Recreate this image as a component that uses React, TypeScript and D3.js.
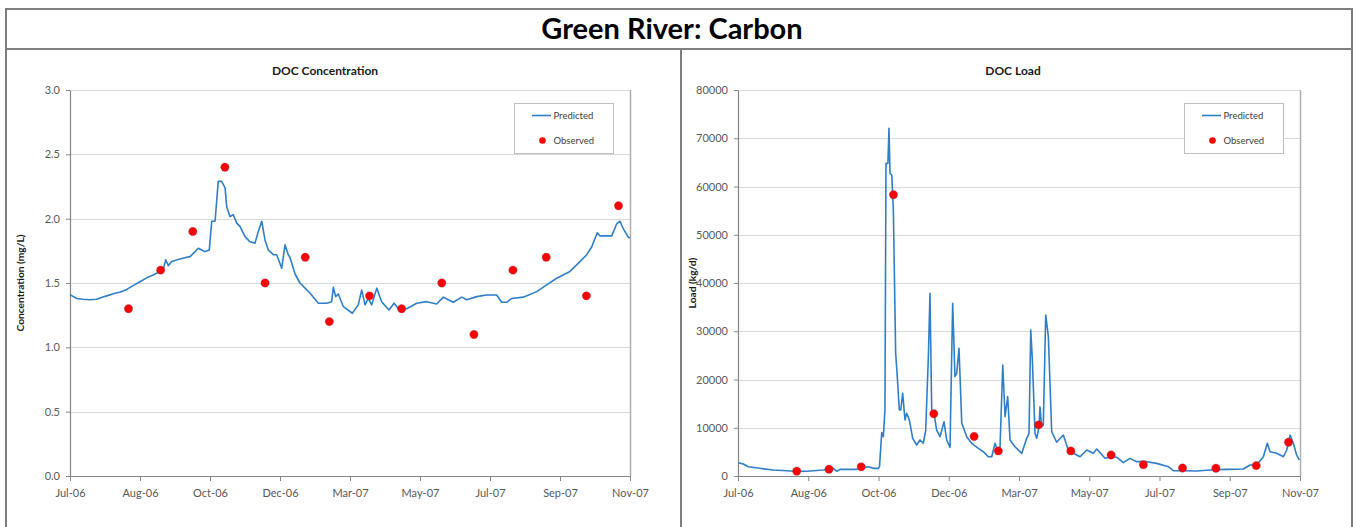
import { useEffect, useRef } from "react";
import * as d3 from "d3";

// day 0 = 1 Jul 2006
const START = Date.UTC(2006, 6, 1);
const DAY_MS = 86400000;

const axisTickDates = [
	"2006-07-01",
	"2006-08-31",
	"2006-10-31",
	"2006-12-31",
	"2007-03-02",
	"2007-05-02",
	"2007-07-02",
	"2007-09-01",
	"2007-11-01",
];

const observedDates = [
	"2006-08-21",
	"2006-09-18",
	"2006-10-16",
	"2006-11-13",
	"2006-12-18",
	"2007-01-22",
	"2007-02-12",
	"2007-03-19",
	"2007-04-16",
	"2007-05-21",
	"2007-06-18",
	"2007-07-22",
	"2007-08-20",
	"2007-09-24",
	"2007-10-22",
];

const concObserved = [1.3, 1.6, 1.9, 2.4, 1.5, 1.7, 1.2, 1.4, 1.3, 1.5, 1.1, 1.6, 1.7, 1.4, 2.1];
const loadObserved = [
	1000, 1400, 1900, 58300, 12900, 8200, 5200, 10600, 5200, 4350, 2350, 1650, 1600, 2150, 7000,
];

const concPredDays = [
	0, 5.8, 11.3, 17, 23.3, 28, 32, 39.2, 44, 49.4, 55, 61, 66.8, 72, 78.4, 81.3, 83.4, 85.7, 88.6,
	95, 101.7, 104.6, 107.5, 111.8, 114.8, 117.6, 121.4, 123.5, 126.4, 129.2, 132.2, 135.1, 136.6,
	139.4, 142.3, 145.3, 148.1, 152.5, 156.9, 161.2, 164.1, 167.1, 169.9, 172.8, 177.2, 180.1, 184.5,
	187.4, 190.2, 191.7, 196.1, 200.4, 204.8, 209.2, 216.4, 223.7, 228, 229.5, 231.5, 233.8, 238.2,
	246, 251.2, 254.2, 257.1, 259.9, 262.9, 267.3, 271.6, 278, 282.4, 286.1, 293.4, 302.1, 310.8,
	319.6, 325.3, 329.7, 334, 341.4, 345.7, 354.4, 363.1, 371.8, 376.2, 380.6, 384.9, 395, 406.7,
	415.4, 424.1, 435.7, 443, 450.3, 454.6, 459.5, 461.9, 472.1, 476.4, 479.3, 482.2, 486.5, 488,
];
const concPredValues = [
	1.41, 1.38, 1.374, 1.37, 1.374, 1.39, 1.4, 1.42, 1.43, 1.45, 1.48, 1.51, 1.54, 1.56, 1.59, 1.607,
	1.68, 1.635, 1.667, 1.685, 1.7, 1.705, 1.73, 1.77, 1.757, 1.744, 1.757, 1.98, 1.98, 2.29, 2.29,
	2.24, 2.09, 2.017, 2.03, 1.965, 1.94, 1.86, 1.82, 1.81, 1.9, 1.98, 1.835, 1.757, 1.72, 1.72, 1.615,
	1.796, 1.72, 1.7, 1.57, 1.5, 1.46, 1.42, 1.343, 1.343, 1.355, 1.467, 1.394, 1.415, 1.316, 1.265,
	1.33, 1.446, 1.33, 1.38, 1.33, 1.46, 1.355, 1.29, 1.343, 1.3, 1.3, 1.343, 1.355, 1.337, 1.39,
	1.37, 1.35, 1.39, 1.37, 1.394, 1.407, 1.407, 1.35, 1.35, 1.38, 1.39, 1.433, 1.485, 1.537, 1.59,
	1.654, 1.72, 1.78, 1.89, 1.866, 1.866, 1.96, 1.98, 1.92, 1.856, 1.85,
];

const loadPredDays = [
	0, 4.6, 8.9, 19.1, 30.7, 42.3, 49.5, 59.7, 74.1, 82.8, 85.7, 88.6, 103.1, 113.1, 117.5, 121.8,
	122.9, 124.8, 126.2, 127.6, 128.5, 130.2, 131.1, 132, 133.5, 134.9, 136.9, 138.3, 140.1, 141.3,
	143, 145, 146.5, 148.8, 151.7, 155.2, 158, 160.9, 163, 165.3, 166.7, 168.2, 170.2, 172.5, 175.4,
	178.9, 181.2, 184.1, 186.4, 188.4, 189.9, 191.9, 194.3, 198.6, 202.9, 208.7, 213, 217.3, 220.3,
	223.2, 225.2, 227.5, 229.9, 231.9, 234.2, 236.2, 240.5, 246.4, 250.7, 252.7, 254.2, 255.6, 257.9,
	259.4, 261.4, 262.2, 263.7, 265.1, 267.2, 269.5, 272.4, 276.7, 282.5, 286.8, 294.1, 297, 302.8,
	308.5, 311.5, 318.7, 324.5, 328.8, 334.6, 340.4, 346.2, 354.9, 363.6, 373.7, 378, 386.7, 398.3,
	409.9, 424.4, 438.8, 444.6, 450.4, 456.2, 459.6, 462, 467.8, 473.6, 476.5, 479.4, 482.2, 485.1,
	487.4,
];
const loadPredValues = [
	2760, 2490, 1930, 1590, 1240, 1100, 970, 1000, 1240, 1590, 1000, 1380, 1380, 1930, 1590, 1590,
	2000, 9000, 8150, 13680, 64800, 64800, 72060, 62700, 62380, 55130, 25430, 20580, 13680, 13680,
	17140, 11600, 13000, 11600, 7810, 6420, 7460, 6780, 9530, 24730, 37860, 13680, 12990, 9530, 8150,
	11250, 7460, 5940, 35790, 20580, 21280, 26460, 10920, 8150, 6780, 5740, 5040, 4000, 4000, 6780,
	5390, 5800, 23000, 12290, 16440, 7460, 6070, 4700, 7810, 8840, 30260, 24040, 8840, 7810, 10220,
	14360, 10220, 10500, 33370, 28870, 9190, 7000, 8500, 5390, 4350, 4000, 5390, 4700, 5600, 3660,
	4000, 3900, 2760, 3660, 2970, 2970, 2620, 1930, 1100, 1100, 1050, 1240, 1380, 1450, 2280, 2280,
	4000, 6780, 5040, 4700, 4000, 5390, 8500, 6780, 4350, 3320,
];

const concTicks = [0, 0.5, 1.0, 1.5, 2.0, 2.5, 3.0];
const loadTicks = [0, 10000, 20000, 30000, 40000, 50000, 60000, 70000, 80000];

const FONT = "Lato, 'Open Sans', sans-serif";
const LINE_COLOR = "#2f7fc8";
const DOT_COLOR = "#ff0000";

interface PanelSpec {
	left: number;
	right: number;
	top: number;
	bottom: number;
	title: string;
	titleX: number;
	yTitle: string;
	yTitleX: number;
	yMax: number;
	yTicks: number[];
	yFormat: (v: number) => string;
	predDays: number[];
	predValues: number[];
	observed: number[];
}

const parseDate = d3.utcParse("%Y-%m-%d");
const dayToDate = (day: number) => new Date(START + day * DAY_MS);

const drawPanel = (svg: d3.Selection<SVGSVGElement, unknown, null, undefined>, spec: PanelSpec) => {
	const x = d3
		.scaleUtc()
		.domain([parseDate(axisTickDates[0])!, parseDate(axisTickDates[axisTickDates.length - 1])!])
		.range([spec.left, spec.right]);
	const y = d3.scaleLinear().domain([0, spec.yMax]).range([spec.bottom, spec.top]);

	const g = svg.append("g");

	// gridlines
	g.selectAll("line.grid")
		.data(spec.yTicks.filter((t) => t > 0))
		.join("line")
		.attr("class", "grid")
		.attr("x1", spec.left)
		.attr("x2", spec.right)
		.attr("y1", (t) => Math.round(y(t)) + 0.5)
		.attr("y2", (t) => Math.round(y(t)) + 0.5)
		.attr("stroke", "#d9d9d9")
		.attr("stroke-width", 1);

	// plot area right border
	g.append("line")
		.attr("x1", spec.right + 0.5)
		.attr("x2", spec.right + 0.5)
		.attr("y1", spec.top)
		.attr("y2", spec.bottom)
		.attr("stroke", "#b0b0b0")
		.attr("stroke-width", 1.5);

	const yAxis = g
		.append("g")
		.attr("transform", `translate(${spec.left},0)`)
		.call(
			d3
				.axisLeft(y)
				.tickValues(spec.yTicks)
				.tickSize(4)
				.tickSizeOuter(0)
				.tickPadding(6)
				.tickFormat((v) => spec.yFormat(Number(v)))
		);
	yAxis.select(".domain").attr("stroke", "#868686").attr("stroke-width", 1.2);
	yAxis.selectAll(".tick line").attr("stroke", "#868686");
	yAxis
		.selectAll("text")
		.attr("fill", "#595959")
		.attr("font-size", 11)
		.attr("font-family", FONT);

	const xAxis = g
		.append("g")
		.attr("transform", `translate(0,${spec.bottom})`)
		.call(
			d3
				.axisBottom(x)
				.tickValues(axisTickDates.map((d) => parseDate(d)!))
				.tickSize(5)
				.tickSizeOuter(0)
				.tickPadding(8)
				.tickFormat((d) => d3.utcFormat("%b-%y")(d as Date))
		);
	xAxis.select(".domain").attr("stroke", "#868686").attr("stroke-width", 1.2);
	xAxis.selectAll(".tick line").attr("stroke", "#868686");
	xAxis
		.selectAll("text")
		.attr("fill", "#595959")
		.attr("font-size", 11)
		.attr("font-family", FONT);

	// predicted line
	const pred = spec.predDays.map((d, i) => ({ date: dayToDate(d), value: spec.predValues[i] }));
	const line = d3
		.line<{ date: Date; value: number }>()
		.x((d) => x(d.date))
		.y((d) => y(d.value));
	g.append("path")
		.datum(pred)
		.attr("d", line)
		.attr("fill", "none")
		.attr("stroke", LINE_COLOR)
		.attr("stroke-width", 1.6)
		.attr("stroke-linejoin", "round");

	// observed dots
	g.selectAll("circle.obs")
		.data(observedDates.map((d, i) => ({ date: parseDate(d)!, value: spec.observed[i] })))
		.join("circle")
		.attr("class", "obs")
		.attr("cx", (d) => x(d.date))
		.attr("cy", (d) => y(d.value))
		.attr("r", 4.2)
		.attr("fill", DOT_COLOR)
		.attr("stroke", "#6b4a7a")
		.attr("stroke-width", 0.5)
		.attr("stroke-opacity", 0.6);

	// titles
	g.append("text")
		.attr("x", spec.titleX)
		.attr("y", 75)
		.attr("text-anchor", "middle")
		.attr("font-size", 12)
		.attr("font-weight", 700)
		.attr("font-family", FONT)
		.attr("fill", "#1a1a1a")
		.text(spec.title);

	g.append("text")
		.attr("transform", `translate(${spec.yTitleX},${(spec.top + spec.bottom) / 2}) rotate(-90)`)
		.attr("text-anchor", "middle")
		.attr("dy", "0.35em")
		.attr("font-size", 10.2)
		.attr("font-weight", 700)
		.attr("font-family", FONT)
		.attr("fill", "#1a1a1a")
		.text(spec.yTitle);

	// legend
	const lx = spec.right - 116;
	const ly = 103;
	const legend = g.append("g").attr("transform", `translate(${lx},${ly})`);
	legend
		.append("rect")
		.attr("x", 0.5)
		.attr("y", 0.5)
		.attr("width", 99)
		.attr("height", 50)
		.attr("fill", "#ffffff")
		.attr("stroke", "#bfbfbf");
	legend
		.append("line")
		.attr("x1", 18)
		.attr("x2", 37)
		.attr("y1", 12.5)
		.attr("y2", 12.5)
		.attr("stroke", LINE_COLOR)
		.attr("stroke-width", 1.6);
	legend
		.append("circle")
		.attr("cx", 28.5)
		.attr("cy", 37.5)
		.attr("r", 3.3)
		.attr("fill", DOT_COLOR);
	legend
		.selectAll("text")
		.data(["Predicted", "Observed"])
		.join("text")
		.attr("x", 39.5)
		.attr("y", (_, i) => 16 + i * 25)
		.attr("font-size", 9.5)
		.attr("font-family", FONT)
		.attr("fill", "#404040")
		.text((d) => d);
};

export default function App() {
	const containerRef = useRef<HTMLDivElement>(null);

	useEffect(() => {
		if (!containerRef.current) {
			return;
		}
		const width = 1356;
		const height = 527;

		const svg = d3
			.select(containerRef.current)
			.append("svg")
			.attr("width", width)
			.attr("height", height)
			.style("position", "absolute")
			.style("left", "0px")
			.style("top", "0px")
			.style("background", "#ffffff");

		// frame
		const frame = svg.append("g").attr("stroke", "#7f7f7f").attr("stroke-width", 2).attr("fill", "none");
		frame.append("path").attr("d", `M6,${height + 5}V9H1352V${height + 5}`);
		frame.append("line").attr("x1", 6).attr("x2", 1352).attr("y1", 49).attr("y2", 49);
		frame.append("line").attr("x1", 681).attr("x2", 681).attr("y1", 49).attr("y2", height + 5);

		svg.append("text")
			.attr("x", 672)
			.attr("y", 39)
			.attr("text-anchor", "middle")
			.attr("font-size", 29)
			.attr("font-weight", 700)
			.attr("font-family", FONT)
			.attr("fill", "#000000")
			.text("Green River: Carbon");

		drawPanel(svg, {
			left: 70,
			right: 630,
			top: 90,
			bottom: 476,
			title: "DOC Concentration",
			titleX: 325,
			yTitle: "Concentration (mg/L)",
			yTitleX: 20,
			yMax: 3,
			yTicks: concTicks,
			yFormat: (v) => v.toFixed(1),
			predDays: concPredDays,
			predValues: concPredValues,
			observed: concObserved,
		});

		drawPanel(svg, {
			left: 738,
			right: 1300,
			top: 90,
			bottom: 476,
			title: "DOC Load",
			titleX: 1013,
			yTitle: "Load (kg/d)",
			yTitleX: 692,
			yMax: 80000,
			yTicks: loadTicks,
			yFormat: (v) => String(v),
			predDays: loadPredDays,
			predValues: loadPredValues,
			observed: loadObserved,
		});

		return () => {
			svg.remove();
		};
	}, []);

	return <div ref={containerRef} style={{ width: 1356, height: 527 }} />;
}
